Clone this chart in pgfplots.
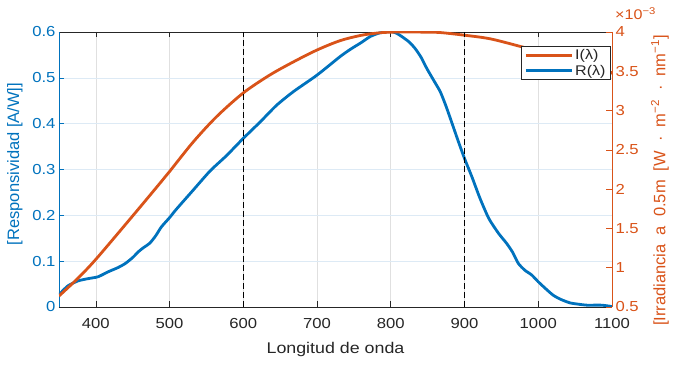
\documentclass[border=0pt]{standalone}
\usepackage{fontspec}
\setmainfont{Liberation Sans}[FakeStretch=1.15]
\newfontfamily\rotfont{Liberation Sans}
\usepackage{pgfplots}
\pgfplotsset{compat=1.18}
\definecolor{mblue}{HTML}{0072BD}
\definecolor{morange}{HTML}{D95319}
\definecolor{mgray}{HTML}{262626}
\definecolor{gridgray}{HTML}{E0E0E0}
\definecolor{gridblue}{HTML}{DDEAF5}
\newcommand{\ls}{\hspace{0.55em}}
\begin{document}
\begin{tikzpicture}
\useasboundingbox (0,0) rectangle (673pt,366pt);
\pgfplotsset{
  base/.style={
    scale only axis, width=553pt, height=275pt,
    at={(59pt,59pt)}, anchor=south west,
    xmin=350, xmax=1100,
    separate axis lines,
    tick align=inside,
    major tick length=5.5pt,
    /pgf/number format/assume math mode=true,
    /pgf/number format/1000 sep={},
    tick label style={font=\fontsize{14.5}{17}\selectfont},
  }
}
\begin{axis}[base,
  axis y line*=left,
  ymin=0, ymax=0.6, ytick={0,0.1,0.2,0.3,0.4,0.5,0.6},
  xtick={400,500,600,700,800,900,1000,1100},
  xtick pos=both,
  x axis line style={color=mgray, line width=0.6pt},
  y axis line style={color=mblue, line width=0.6pt},
  x tick style={color=mgray, line width=0.6pt},
  y tick style={color=mblue, line width=0.6pt},
  xticklabel style={color=mgray, yshift=-8pt},
  yticklabel style={color=mblue},
  xmajorgrids, ymajorgrids,
  x grid style={gridgray, line width=0.6pt},
  y grid style={gridblue, line width=0.6pt},
  xlabel={Longitud de onda},
  xlabel style={at={(axis description cs:0.5,-0.155)}, anchor=center, text=mgray, font=\fontsize{15.5}{18}\selectfont},
  ylabel={[Responsividad [A/W]]},
  every axis y label/.style={at={(axis description cs:-0.0796,0.52)}, rotate=90, anchor=center},
  ylabel style={text=mblue, font=\rotfont\fontsize{16.5}{19}\selectfont},
]
\addplot[mblue, line width=2.8pt, smooth, tension=0.4] coordinates {
(350,0.027) (362,0.046) (376,0.057) (390,0.062) (403,0.066) (417,0.077) (430,0.086)
(440,0.095) (450,0.108) (458,0.121) (465,0.130) (473,0.139) (481,0.155) (489,0.175)
(500,0.195) (509,0.213) (532,0.255) (555,0.297) (577,0.330) (600,0.368) (623,0.404)
(645,0.440) (668,0.470) (700,0.506) (731,0.546) (745,0.562) (760,0.577) (772,0.590)
(785,0.598) (800,0.601) (808,0.597) (815,0.590) (825,0.578) (833,0.564) (841,0.545)
(849,0.520) (858,0.495) (867,0.470) (874,0.442) (880,0.415) (891,0.364) (900,0.324)
(910,0.284) (921,0.237) (933,0.193) (946,0.161) (957,0.139) (965,0.120) (973,0.095)
(982,0.080) (991,0.070) (1000,0.055) (1010,0.040) (1020,0.026) (1030,0.017)
(1043,0.009) (1055,0.006) (1066,0.004) (1086,0.004) (1100,0.001)
};
\end{axis}
\begin{axis}[base, name=ax2,
  axis y line*=right, axis x line=none,
  ymin=0.5, ymax=4, ytick={0.5,1,1.5,2,2.5,3,3.5,4},
  y axis line style={color=morange, line width=0.6pt},
  y tick style={color=morange, line width=0.6pt},
  yticklabel style={color=morange},
  ylabel={[Irradiancia\ls a\ls 0.5m\ls [W\ls ·\ls m\textsuperscript{−2}\ls ·\ls nm\textsuperscript{−1}]},
  every axis y label/.style={at={(axis description cs:1.0868,0.46)}, rotate=90, anchor=center},
  ylabel style={text=morange, font=\rotfont\fontsize{16.5}{19}\selectfont},
  legend style={at={(axis description cs:0.998,0.949)}, anchor=north east,
    draw=mgray, line width=0.6pt, fill=white, text=mgray,
    font=\fontsize{14}{16.5}\selectfont, inner xsep=3pt, inner ysep=1pt,
    cells={anchor=west}},
  legend image code/.code={\draw[#1] (0pt,0pt) -- (46pt,0pt);},
]
\addplot[morange, line width=2.8pt, smooth, tension=0.5] coordinates {
(350,0.64) (375,0.86) (400,1.107) (450,1.66) (486,2.065) (500,2.225) (532,2.60)
(564,2.925) (600,3.225) (636,3.453) (668,3.62) (700,3.771) (731,3.889) (760,3.958)
(785,3.990) (805,3.999) (825,4.0) (845,3.998) (867,3.993) (900,3.959) (935,3.913)
(977,3.813) (1000,3.755) (1050,3.62) (1100,3.475)
};
\addlegendentry{I(λ)}
\addlegendimage{mblue, line width=2.8pt}
\addlegendentry{R(λ)}
\addplot[black, dash pattern=on 6pt off 3pt, line width=1.3pt, forget plot] coordinates {(600,0.5) (600,4)};
\addplot[black, dash pattern=on 6pt off 3pt, line width=1.3pt, forget plot] coordinates {(900,0.5) (900,4)};
\end{axis}
\node[anchor=base west, text=morange, font=\fontsize{14}{16}\selectfont, xshift=3pt, yshift=12pt, inner sep=0pt] at (ax2.north east) {×10\textsuperscript{−3}};
\end{tikzpicture}
\end{document}
